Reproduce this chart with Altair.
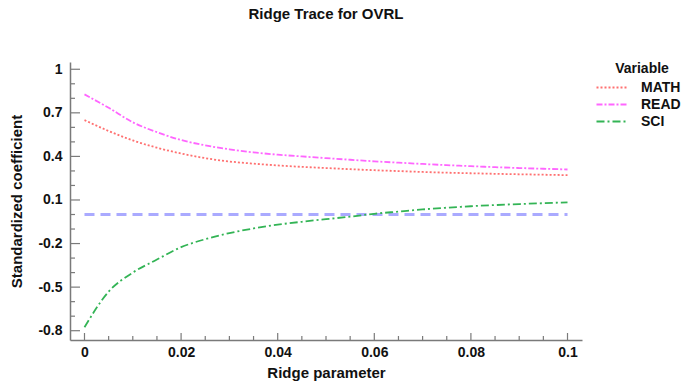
import altair as alt
import pandas as pd

# ---- data ----
ridge = [0.0, 0.005, 0.01, 0.015, 0.02, 0.025, 0.03, 0.035, 0.04, 0.045, 0.05,
         0.055, 0.06, 0.065, 0.07, 0.075, 0.08, 0.085, 0.09, 0.095, 0.1]
math_coef = [0.650, 0.575, 0.510, 0.460, 0.420, 0.388, 0.365, 0.350, 0.338, 0.328, 0.320,
             0.312, 0.305, 0.299, 0.293, 0.288, 0.284, 0.280, 0.277, 0.274, 0.271]
read_coef = [0.827, 0.735, 0.635, 0.567, 0.513, 0.476, 0.449, 0.428, 0.412, 0.400, 0.388,
             0.377, 0.366, 0.357, 0.348, 0.340, 0.333, 0.326, 0.320, 0.315, 0.310]
sci_coef = [-0.776, -0.531, -0.400, -0.310, -0.225, -0.170, -0.128, -0.096, -0.070, -0.050, -0.032,
            -0.015, 0.005, 0.020, 0.035, 0.047, 0.057, 0.065, 0.072, 0.078, 0.084]
variables = ["MATH", "READ", "SCI"]
ref_x = [0.0, 0.1]
ref_y = [0.0, 0.0]

y_major = [-0.8, -0.5, -0.2, 0.1, 0.4, 0.7, 1.0]
y_minor = [-0.7, -0.6, -0.4, -0.3, -0.1, 0.0, 0.2, 0.3, 0.5, 0.6, 0.8, 0.9]
x_major = [0.0, 0.02, 0.04, 0.06, 0.08, 0.1]
x_minor = [0.005, 0.01, 0.015, 0.025, 0.03, 0.035, 0.045, 0.05, 0.055,
           0.065, 0.07, 0.075, 0.085, 0.09, 0.095]

# ---- styles ----
colors = ["#ff7070", "#ff66ff", "#33b455"]
dashes = [[2, 2], [6, 2, 2, 2], [8, 3, 2, 3]]
axis_gray = "#7a7a7a"
FONT = "Liberation Sans"
W, H = 512, 278

rows = []
for name, vals in zip(variables, [math_coef, read_coef, sci_coef]):
    for r, v in zip(ridge, vals):
        rows.append({"ridge": r, "value": v, "Variable": name})
df = pd.DataFrame(rows)

xs = alt.Scale(domain=[-0.003, 0.103], nice=False, zero=False)
ys = alt.Scale(domain=[-0.864, 1.05], nice=False, zero=False)

x_axis = alt.Axis(values=x_major, labelExpr="'' + datum.value",
                  title="Ridge parameter", labelPadding=5, titlePadding=6)
y_axis = alt.Axis(values=y_major, labelExpr="'' + datum.value",
                  title="Standardized coefficient", labelPadding=8, titlePadding=13)

legend = alt.Legend(
    title="Variable", orient="none", legendX=533, legendY=0,
    symbolType="M-2,0H2", symbolSize=225, symbolStrokeWidth=2,
    titleAnchor="middle", titleFont=FONT, titleFontSize=14, titleFontWeight="bold",
    titleColor="#111111", labelFont=FONT, labelFontSize=14, labelFontWeight="bold",
    labelColor="#111111", rowPadding=1, titlePadding=3, labelOffset=21,
)

ref = alt.Chart(pd.DataFrame({"rx": ref_x, "ry": ref_y})).mark_line(
    color="#aaaaff", strokeWidth=3, strokeDash=[10, 6]
).encode(
    x=alt.X("rx:Q", scale=xs, axis=x_axis),
    y=alt.Y("ry:Q", scale=ys, axis=y_axis),
)

lines = alt.Chart(df).mark_line(strokeWidth=1.8, interpolate="monotone").encode(
    x=alt.X("ridge:Q", scale=xs, axis=x_axis),
    y=alt.Y("value:Q", scale=ys, axis=y_axis),
    color=alt.Color("Variable:N", scale=alt.Scale(domain=variables, range=colors), legend=legend),
    strokeDash=alt.StrokeDash("Variable:N", scale=alt.Scale(domain=variables, range=dashes), legend=legend),
)

ytm = alt.Chart(pd.DataFrame({"t": y_major})).mark_rule(color=axis_gray, strokeWidth=1.2).encode(
    y=alt.Y("t:Q", scale=ys, axis=y_axis), x=alt.value(0), x2=alt.value(10))
ytn = alt.Chart(pd.DataFrame({"t": y_minor})).mark_rule(color=axis_gray, strokeWidth=1.2).encode(
    y=alt.Y("t:Q", scale=ys, axis=y_axis), x=alt.value(0), x2=alt.value(5))
xtm = alt.Chart(pd.DataFrame({"t": x_major})).mark_rule(color=axis_gray, strokeWidth=1.2).encode(
    x=alt.X("t:Q", scale=xs, axis=x_axis), y=alt.value(H), y2=alt.value(H - 7))
xtn = alt.Chart(pd.DataFrame({"t": x_minor})).mark_rule(color=axis_gray, strokeWidth=1.2).encode(
    x=alt.X("t:Q", scale=xs, axis=x_axis), y=alt.value(H), y2=alt.value(H - 4))

chart = alt.layer(ref, lines, ytm, ytn, xtm, xtn).properties(
    width=W, height=H,
    title=alt.TitleParams("Ridge Trace for OVRL", font=FONT, fontSize=15, fontWeight="bold",
                          color="#111111", anchor="middle", offset=40),
    autosize=alt.AutoSizeParams(type="none"),
    padding={"left": 70, "top": 62, "right": 102, "bottom": 45},
).configure_axis(
    grid=False, ticks=False, domainColor=axis_gray, domainWidth=1.5,
    labelFont=FONT, labelFontSize=14, labelFontWeight="bold", labelColor="#111111",
    titleFont=FONT, titleFontSize=15, titleFontWeight="bold", titleColor="#111111",
).configure_view(strokeWidth=0)

chart.save("out.html", embed_options={"renderer": "svg", "actions": False})
